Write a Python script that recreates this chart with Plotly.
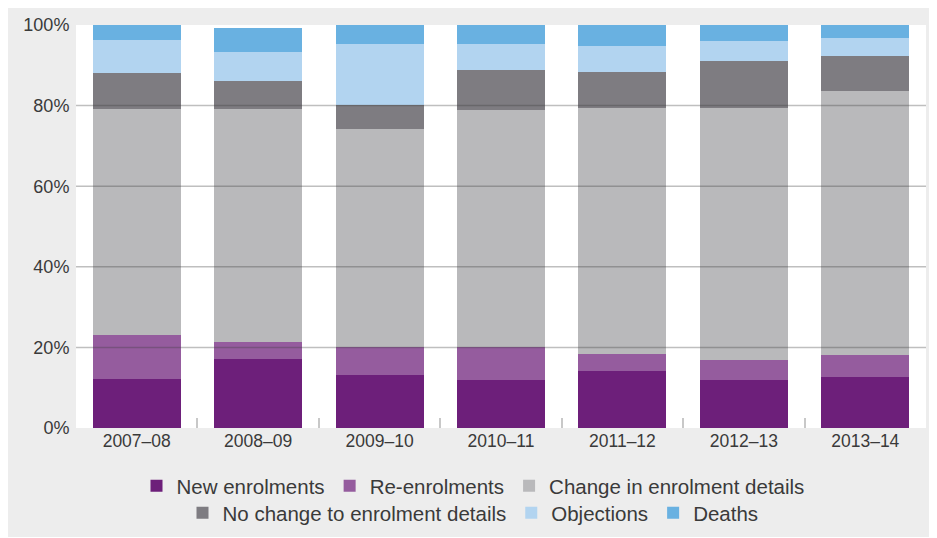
import plotly.graph_objects as go

categories = ["2007–08", "2008–09", "2009–10", "2010–11", "2011–12", "2012–13", "2013–14"]
new_enrolments = [12.2, 17.1, 13.2, 11.9, 14.1, 11.9, 12.7]
re_enrolments = [10.9, 4.2, 6.8, 8.1, 4.3, 5.0, 5.4]
change_details = [56.1, 57.9, 54.2, 58.9, 61.0, 62.5, 65.5]
no_change_details = [8.9, 6.9, 5.9, 9.9, 8.9, 11.7, 8.7]
objections = [8.2, 7.2, 15.2, 6.5, 6.5, 4.9, 4.5]
deaths = [3.7, 6.0, 4.9, 4.7, 5.4, 4.0, 3.2]
y_ticks = [0, 20, 40, 60, 80, 100]
y_tick_labels = ["0%", "20%", "40%", "60%", "80%", "100%"]
grid_ticks = [20, 40, 60, 80]

series = [
    ("New enrolments", new_enrolments, "#6d1f7a", "legend"),
    ("Re-enrolments", re_enrolments, "#955c9e", "legend"),
    ("Change in enrolment details", change_details, "#b9b9bb", "legend"),
    ("No change to enrolment details", no_change_details, "#7e7c81", "legend2"),
    ("Objections", objections, "#b2d4f0", "legend2"),
    ("Deaths", deaths, "#69b1e1", "legend2"),
]

FONT = "Liberation Sans"
TXT = "#3a3a3a"

fig = go.Figure()
for name, vals, color, leg in series:
    fig.add_trace(go.Bar(
        x=categories, y=vals, name=name, legend=leg,
        marker=dict(color=color, line=dict(width=0)),
        hoverinfo="skip",
    ))

OFF = 8  # page body margin
W, H = 937 - OFF, 538 - OFF
L, T = 76 - OFF, 25 - OFF
R = W - (926 - OFF)
B = H - (428 - OFF)
pw, ph = W - L - R, H - T - B

def px_x(p):
    return (p - OFF - L) / pw

def px_y(p):
    return (428 - p) / ph

def cont_y(p):
    return 1 - (p - OFF) / H

def cont_x(p):
    return (p - OFF) / W

shapes = [
    dict(type="rect", xref="paper", yref="paper", layer="below",
         x0=px_x(6), x1=px_x(940), y0=px_y(537), y1=px_y(7),
         fillcolor="#ededed", line=dict(width=0)),
    dict(type="rect", xref="paper", yref="paper", layer="below",
         x0=0, x1=1, y0=0, y1=1, fillcolor="#ffffff", line=dict(width=0)),
]
for g in grid_ticks:
    shapes.append(dict(type="line", xref="paper", yref="y", layer="above",
                       x0=0, x1=1, y0=g, y1=g,
                       line=dict(color="rgba(60,60,60,0.33)", width=1.5)))

fig.update_layout(
    width=W, height=H,
    margin=dict(l=L, r=R, t=T, b=B, autoexpand=False),
    paper_bgcolor="#ffffff",
    plot_bgcolor="#ffffff",
    barmode="stack",
    bargap=0.275,
    shapes=shapes,
    font=dict(family=FONT, color=TXT),
    xaxis=dict(
        tickfont=dict(size=17.5, family=FONT, color=TXT),
        tickson="boundaries", ticks="inside", ticklen=10,
        tickcolor="#c8c8c8", tickwidth=1.5,
        showgrid=False, showline=False, zeroline=False,
    ),
    yaxis=dict(
        range=[0, 100], tickmode="array", tickvals=y_ticks, ticktext=y_tick_labels,
        tickfont=dict(size=18, family=FONT, color=TXT),
        showgrid=False, zeroline=False, showline=False,
        ticks="outside", ticklen=2, tickcolor="rgba(0,0,0,0)",
    ),
    legend=dict(
        orientation="h", xref="container", yref="container",
        x=cont_x(473), xanchor="center", y=cont_y(486), yanchor="middle",
        font=dict(size=20.5, family=FONT, color=TXT),
        bgcolor="rgba(0,0,0,0)", traceorder="normal",
    ),
    legend2=dict(
        orientation="h", xref="container", yref="container",
        x=cont_x(473), xanchor="center", y=cont_y(513), yanchor="middle",
        font=dict(size=20.5, family=FONT, color=TXT),
        bgcolor="rgba(0,0,0,0)", traceorder="normal",
    ),
)

fig.write_html("out.html")
